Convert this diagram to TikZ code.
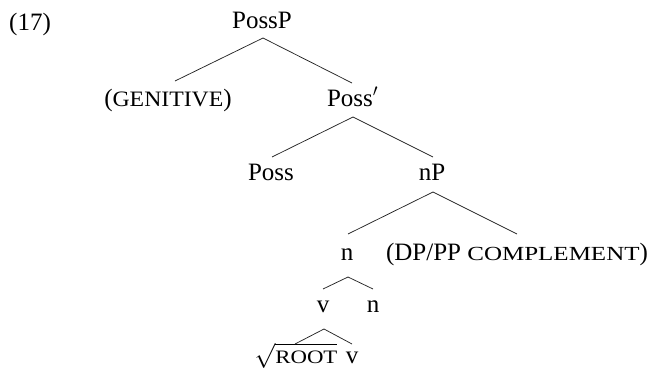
\documentclass[tikz,border=0pt]{standalone}
\usepackage{fontspec}
\setmainfont{Liberation Serif}
\usetikzlibrary{calc}
\newcommand\smc[3]{{\fontsize{#1}{#1}\selectfont\addfontfeature{FakeStretch=#2}#3}}
\tikzset{
  lab/.style={inner sep=0pt, anchor=base, font=\fontsize{25}{28}\selectfont},
  br/.style={line width=0.75pt, draw=black!85}
}
\begin{document}
\begin{tikzpicture}[x=1pt,y=-1pt]
\useasboundingbox (0,0) rectangle (649,370);
\node[lab, anchor=base west] (ex) at (9,30) {(17)};
\node[lab] (possp) at (262,28) {PossP};
\node[lab] (gen) at (168,106) {(\smc{22}{1.08}{GENITIVE})};
\node[lab] (possbar) at (350,106) {Poss\rlap{$'$}};
\node[lab] (poss) at (271,180) {Poss};
\node[lab] (np) at (432,180) {nP};
\node[lab] (n) at (347,260) {n};
\node[lab] (comp) at (517,260) {(DP/PP \smc{20}{1.25}{COMPLEMENT})};
\node[lab] (v) at (323,312) {v};
\node[lab] (n2) at (373,312) {n};
\node[lab] (root) at (296,363) {$\sqrt{\hbox{\smc{19}{1.2}{ROOT}}}$};
\node[lab] (v2) at (352,363) {v};
% branches
\draw[br] ($(possp.base)+(1,10)$) -- ($(gen.base)+(7,-25)$);
\draw[br] ($(possp.base)+(1,10)$) -- ($(possbar.base)+(2,-23)$);
\draw[br] ($(possbar.base)+(3,11)$) -- ($(poss.base)+(1,-23)$);
\draw[br] ($(possbar.base)+(3,11)$) -- ($(np.base)+(1,-23)$);
\draw[br] ($(np.base)+(1,12)$) -- ($(n.base)+(1,-26)$);
\draw[br] ($(np.base)+(1,12)$) -- ($(comp.base)+(0,-26)$);
\draw[br] ($(n.base)+(1,17)$) -- ($(v.base)+(0,-23)$);
\draw[br] ($(n.base)+(1,17)$) -- ($(n2.base)+(0,-23)$);
\draw[br] ($(v.base)+(1,17)$) -- ($(root.base)+(-1,-19)$);
\draw[br] ($(v.base)+(1,17)$) -- ($(v2.base)+(0,-19)$);
\end{tikzpicture}
\end{document}
